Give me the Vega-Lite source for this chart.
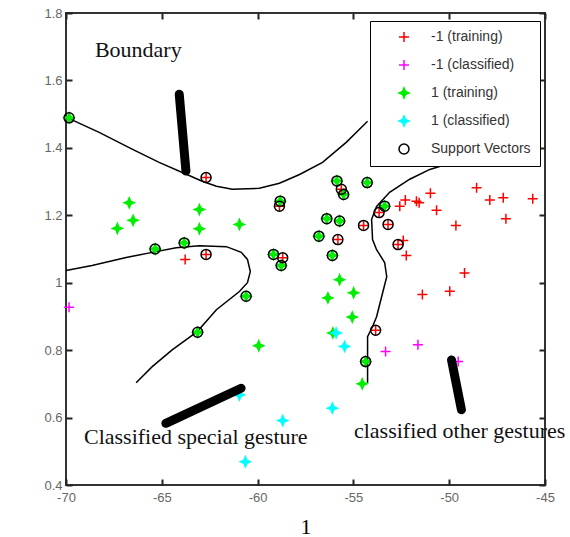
{
"$schema": "https://vega.github.io/schema/vega-lite/v6.json",
"width": 479, "height": 472,
"autosize": {"type": "none"},
"padding": {"left": 66, "top": 13, "right": 25, "bottom": 52},
"background": "white",
"config": {
  "view": {"stroke": "#333", "strokeWidth": 2},
  "axis": {"labelFont": "Liberation Sans", "labelFontSize": 13, "labelColor": "#666", "ticks": true, "tickColor": "#222", "tickWidth": 2, "tickOpacity": 1, "grid": false, "domain": false}
},
"datasets": {
  "boundary": [
    {"c":"A","i":0,"x":-70.00,"y":1.491},{"c":"A","i":1,"x":-68.27,"y":1.446},{"c":"A","i":2,"x":-66.55,"y":1.396},{"c":"A","i":3,"x":-65.14,"y":1.357},{"c":"A","i":4,"x":-63.93,"y":1.327},{"c":"A","i":5,"x":-62.89,"y":1.301},{"c":"A","i":6,"x":-62.15,"y":1.286},{"c":"A","i":7,"x":-61.32,"y":1.277},{"c":"A","i":8,"x":-59.91,"y":1.280},{"c":"A","i":9,"x":-58.86,"y":1.295},{"c":"A","i":10,"x":-57.81,"y":1.321},{"c":"A","i":11,"x":-56.61,"y":1.357},{"c":"A","i":12,"x":-55.36,"y":1.417},{"c":"A","i":13,"x":-54.26,"y":1.479},
    {"c":"B","i":0,"x":-54.26,"y":0.703},{"c":"B","i":1,"x":-54.26,"y":0.840},{"c":"B","i":2,"x":-54.00,"y":0.870},{"c":"B","i":3,"x":-53.79,"y":0.899},{"c":"B","i":4,"x":-53.47,"y":0.971},{"c":"B","i":5,"x":-53.26,"y":1.018},{"c":"B","i":6,"x":-53.37,"y":1.060},{"c":"B","i":7,"x":-53.79,"y":1.098},{"c":"B","i":8,"x":-54.00,"y":1.128},{"c":"B","i":9,"x":-54.05,"y":1.188},{"c":"B","i":10,"x":-53.79,"y":1.226},{"c":"B","i":11,"x":-53.11,"y":1.268},{"c":"B","i":12,"x":-52.06,"y":1.307},{"c":"B","i":13,"x":-51.01,"y":1.336},{"c":"B","i":14,"x":-49.45,"y":1.363},{"c":"B","i":15,"x":-48.03,"y":1.375},
    {"c":"C","i":0,"x":-70.00,"y":1.036},{"c":"C","i":1,"x":-68.64,"y":1.051},{"c":"C","i":2,"x":-66.86,"y":1.075},{"c":"C","i":3,"x":-65.50,"y":1.090},{"c":"C","i":4,"x":-64.25,"y":1.104},{"c":"C","i":5,"x":-63.04,"y":1.110},{"c":"C","i":6,"x":-61.63,"y":1.107},{"c":"C","i":7,"x":-60.85,"y":1.090},{"c":"C","i":8,"x":-60.53,"y":1.069},{"c":"C","i":9,"x":-60.38,"y":1.033},{"c":"C","i":10,"x":-60.53,"y":1.000},{"c":"C","i":11,"x":-60.95,"y":0.974},{"c":"C","i":12,"x":-62.15,"y":0.920},{"c":"C","i":13,"x":-63.15,"y":0.855},{"c":"C","i":14,"x":-64.46,"y":0.801},{"c":"C","i":15,"x":-65.50,"y":0.751},{"c":"C","i":16,"x":-66.34,"y":0.703}
  ],
  "strokes": [
    {"k":"S1","i":0,"x":-64.09,"y":1.559},{"k":"S1","i":1,"x":-63.74,"y":1.331},
    {"k":"S2","i":0,"x":-64.79,"y":0.583},{"k":"S2","i":1,"x":-60.86,"y":0.687},
    {"k":"S3","i":0,"x":-49.88,"y":0.771},{"k":"S3","i":1,"x":-49.36,"y":0.623}
  ],
  "points": [
    {"s":"-1 (training)","x":-63.78,"y":1.069},{"s":"-1 (training)","x":-48.57,"y":1.282},{"s":"-1 (training)","x":-52.58,"y":1.227},{"s":"-1 (training)","x":-52.29,"y":1.245},{"s":"-1 (training)","x":-51.71,"y":1.242},{"s":"-1 (training)","x":-51.57,"y":1.237},{"s":"-1 (training)","x":-50.98,"y":1.265},{"s":"-1 (training)","x":-50.66,"y":1.215},{"s":"-1 (training)","x":-49.65,"y":1.170},{"s":"-1 (training)","x":-47.88,"y":1.245},{"s":"-1 (training)","x":-47.18,"y":1.252},{"s":"-1 (training)","x":-47.04,"y":1.190},{"s":"-1 (training)","x":-45.64,"y":1.249},{"s":"-1 (training)","x":-52.40,"y":1.125},{"s":"-1 (training)","x":-52.24,"y":1.081},{"s":"-1 (training)","x":-49.20,"y":1.029},{"s":"-1 (training)","x":-49.97,"y":0.975},{"s":"-1 (training)","x":-51.40,"y":0.965},
    {"s":"-1 (training)","x":-52.67,"y":1.113},{"s":"-1 (training)","x":-55.63,"y":1.277},{"s":"-1 (training)","x":-58.86,"y":1.227},{"s":"-1 (training)","x":-55.81,"y":1.128},{"s":"-1 (training)","x":-54.47,"y":1.170},{"s":"-1 (training)","x":-53.66,"y":1.208},{"s":"-1 (training)","x":-53.19,"y":1.173},{"s":"-1 (training)","x":-58.69,"y":1.074},{"s":"-1 (training)","x":-62.69,"y":1.312},{"s":"-1 (training)","x":-62.69,"y":1.084},{"s":"-1 (training)","x":-53.84,"y":0.859},
    {"s":"-1 (classified)","x":-69.84,"y":0.927},{"s":"-1 (classified)","x":-53.32,"y":0.796},{"s":"-1 (classified)","x":-51.63,"y":0.816},{"s":"-1 (classified)","x":-49.53,"y":0.766},
    {"s":"1 (training)","x":-66.70,"y":1.237},{"s":"1 (training)","x":-66.50,"y":1.185},{"s":"1 (training)","x":-67.32,"y":1.161},{"s":"1 (training)","x":-63.04,"y":1.217},{"s":"1 (training)","x":-63.04,"y":1.160},{"s":"1 (training)","x":-60.95,"y":1.173},{"s":"1 (training)","x":-55.72,"y":1.009},{"s":"1 (training)","x":-56.33,"y":0.955},{"s":"1 (training)","x":-54.99,"y":0.970},{"s":"1 (training)","x":-55.06,"y":0.898},{"s":"1 (training)","x":-56.07,"y":0.851},{"s":"1 (training)","x":-59.94,"y":0.813},{"s":"1 (training)","x":-54.54,"y":0.700},
    {"s":"1 (training)","x":-69.84,"y":1.489},{"s":"1 (training)","x":-65.35,"y":1.100},{"s":"1 (training)","x":-63.83,"y":1.118},{"s":"1 (training)","x":-60.60,"y":0.960},{"s":"1 (training)","x":-63.13,"y":0.853},{"s":"1 (training)","x":-58.82,"y":1.242},{"s":"1 (training)","x":-55.86,"y":1.302},{"s":"1 (training)","x":-55.51,"y":1.262},{"s":"1 (training)","x":-54.28,"y":1.297},{"s":"1 (training)","x":-53.37,"y":1.227},{"s":"1 (training)","x":-56.39,"y":1.190},{"s":"1 (training)","x":-55.72,"y":1.183},{"s":"1 (training)","x":-56.80,"y":1.138},{"s":"1 (training)","x":-56.10,"y":1.081},{"s":"1 (training)","x":-59.17,"y":1.084},{"s":"1 (training)","x":-58.77,"y":1.051},{"s":"1 (training)","x":-54.36,"y":0.766},
    {"s":"1 (classified)","x":-55.90,"y":0.851},{"s":"1 (classified)","x":-55.46,"y":0.811},{"s":"1 (classified)","x":-56.10,"y":0.628},{"s":"1 (classified)","x":-58.69,"y":0.591},{"s":"1 (classified)","x":-60.64,"y":0.469},{"s":"1 (classified)","x":-60.95,"y":0.667},
    {"s":"Support Vectors","x":-52.67,"y":1.113},{"s":"Support Vectors","x":-55.63,"y":1.277},{"s":"Support Vectors","x":-58.86,"y":1.227},{"s":"Support Vectors","x":-55.81,"y":1.128},{"s":"Support Vectors","x":-54.47,"y":1.170},{"s":"Support Vectors","x":-53.66,"y":1.208},{"s":"Support Vectors","x":-53.19,"y":1.173},{"s":"Support Vectors","x":-58.69,"y":1.074},{"s":"Support Vectors","x":-62.69,"y":1.312},{"s":"Support Vectors","x":-62.69,"y":1.084},{"s":"Support Vectors","x":-53.84,"y":0.859},
    {"s":"Support Vectors","x":-69.84,"y":1.489},{"s":"Support Vectors","x":-65.35,"y":1.100},{"s":"Support Vectors","x":-63.83,"y":1.118},{"s":"Support Vectors","x":-60.60,"y":0.960},{"s":"Support Vectors","x":-63.13,"y":0.853},{"s":"Support Vectors","x":-58.82,"y":1.242},{"s":"Support Vectors","x":-55.86,"y":1.302},{"s":"Support Vectors","x":-55.51,"y":1.262},{"s":"Support Vectors","x":-54.28,"y":1.297},{"s":"Support Vectors","x":-53.37,"y":1.227},{"s":"Support Vectors","x":-56.39,"y":1.190},{"s":"Support Vectors","x":-55.72,"y":1.183},{"s":"Support Vectors","x":-56.80,"y":1.138},{"s":"Support Vectors","x":-56.10,"y":1.081},{"s":"Support Vectors","x":-59.17,"y":1.084},{"s":"Support Vectors","x":-58.77,"y":1.051},{"s":"Support Vectors","x":-54.36,"y":0.766}
  ],
  "notes": [
    {"t":"Boundary","x":-68.49,"y":1.669},
    {"t":"Classified special gesture","x":-69.06,"y":0.521},
    {"t":"classified other gestures","x":-54.97,"y":0.539}
  ]
},
"layer": [
  {
    "data": {"name": "boundary"},
    "mark": {"type": "line", "color": "black", "strokeWidth": 1.5},
    "encoding": {
      "x": {"field": "x", "type": "quantitative", "scale": {"domain": [-70, -45], "nice": false, "zero": false},
            "axis": {"orient": "bottom", "offset": -6, "values": [-70, -65, -60, -55, -50, -45], "labelExpr": "'-' + abs(datum.value)", "ticks": true, "tickSize": 6, "labelPadding": 6, "labelFlush": false, "title": "1", "titleFont": "Liberation Serif", "titleFontSize": 22, "titleFontWeight": "normal", "titleColor": "black", "titleY": 54, "titleBaseline": "alphabetic"}},
      "y": {"field": "y", "type": "quantitative", "scale": {"domain": [0.4, 1.8], "nice": false, "zero": false},
            "axis": {"orient": "left", "offset": -6, "values": [0.4, 0.6, 0.8, 1, 1.2, 1.4, 1.6, 1.8], "format": "~g", "ticks": true, "tickSize": 6, "labelPadding": 4, "title": null}},
      "detail": {"field": "c"},
      "order": {"field": "i"}
    }
  },
  {
    "data": {"name": "points"},
    "mark": {"type": "point", "strokeWidth": 1.5, "opacity": 1},
    "encoding": {
      "x": {"field": "x", "type": "quantitative", "scale": {"domain": [-70, -45], "nice": false, "zero": false}, "axis": null},
      "y": {"field": "y", "type": "quantitative", "scale": {"domain": [0.4, 1.8], "nice": false, "zero": false}, "axis": null},
      "shape": {"field": "s", "type": "nominal", "scale": {"domain": ["-1 (training)", "-1 (classified)", "1 (training)", "1 (classified)", "Support Vectors"], "range": ["M-1,0L1,0M0,-1L0,1", "M-1,0L1,0M0,-1L0,1", "M0,-1L0.3,-0.3L1,0L0.3,0.3L0,1L-0.3,0.3L-1,0L-0.3,-0.3Z", "M0,-1L0.3,-0.3L1,0L0.3,0.3L0,1L-0.3,0.3L-1,0L-0.3,-0.3Z", "circle"]},
                "legend": {"orient": "none", "legendX": 304, "legendY": 8, "title": null, "strokeColor": "black", "fillColor": "white", "padding": 9, "symbolOffset": 18, "labelOffset": 20, "rowPadding": 12, "labelFont": "Liberation Sans", "labelFontSize": 14, "labelColor": "#333", "symbolStrokeWidth": 1.5}},
      "stroke": {"field": "s", "type": "nominal", "scale": {"domain": ["-1 (training)", "-1 (classified)", "1 (training)", "1 (classified)", "Support Vectors"], "range": ["#ff0000", "#ff00ff", "#00ee00", "#00ffff", "#000000"]}},
      "fill": {"field": "s", "type": "nominal", "scale": {"domain": ["-1 (training)", "-1 (classified)", "1 (training)", "1 (classified)", "Support Vectors"], "range": ["transparent", "transparent", "#00ee00", "#00ffff", "transparent"]}},
      "size": {"field": "s", "type": "nominal", "scale": {"domain": ["-1 (training)", "-1 (classified)", "1 (training)", "1 (classified)", "Support Vectors"], "range": [100, 100, 100, 100, 68]}}
    }
  },
  {
    "data": {"name": "strokes"},
    "mark": {"type": "line", "color": "black", "strokeWidth": 9, "strokeCap": "round"},
    "encoding": {
      "x": {"field": "x", "type": "quantitative", "scale": {"domain": [-70, -45], "nice": false, "zero": false},
            "axis": {"orient": "top", "offset": -6, "values": [-70, -65, -60, -55, -50, -45], "labels": false, "ticks": true, "tickSize": 6, "title": null}},
      "y": {"field": "y", "type": "quantitative", "scale": {"domain": [0.4, 1.8], "nice": false, "zero": false},
            "axis": {"orient": "right", "offset": -6, "values": [0.4, 0.6, 0.8, 1, 1.2, 1.4, 1.6, 1.8], "labels": false, "ticks": true, "tickSize": 6, "title": null}},
      "detail": {"field": "k"},
      "order": {"field": "i"}
    }
  },
  {
    "data": {"name": "notes"},
    "mark": {"type": "text", "align": "left", "baseline": "alphabetic", "font": "Liberation Serif", "fontSize": 22, "color": "#111"},
    "encoding": {
      "x": {"field": "x", "type": "quantitative", "scale": {"domain": [-70, -45], "nice": false, "zero": false}, "axis": null},
      "y": {"field": "y", "type": "quantitative", "scale": {"domain": [0.4, 1.8], "nice": false, "zero": false}, "axis": null},
      "text": {"field": "t"}
    }
  }
]
}
